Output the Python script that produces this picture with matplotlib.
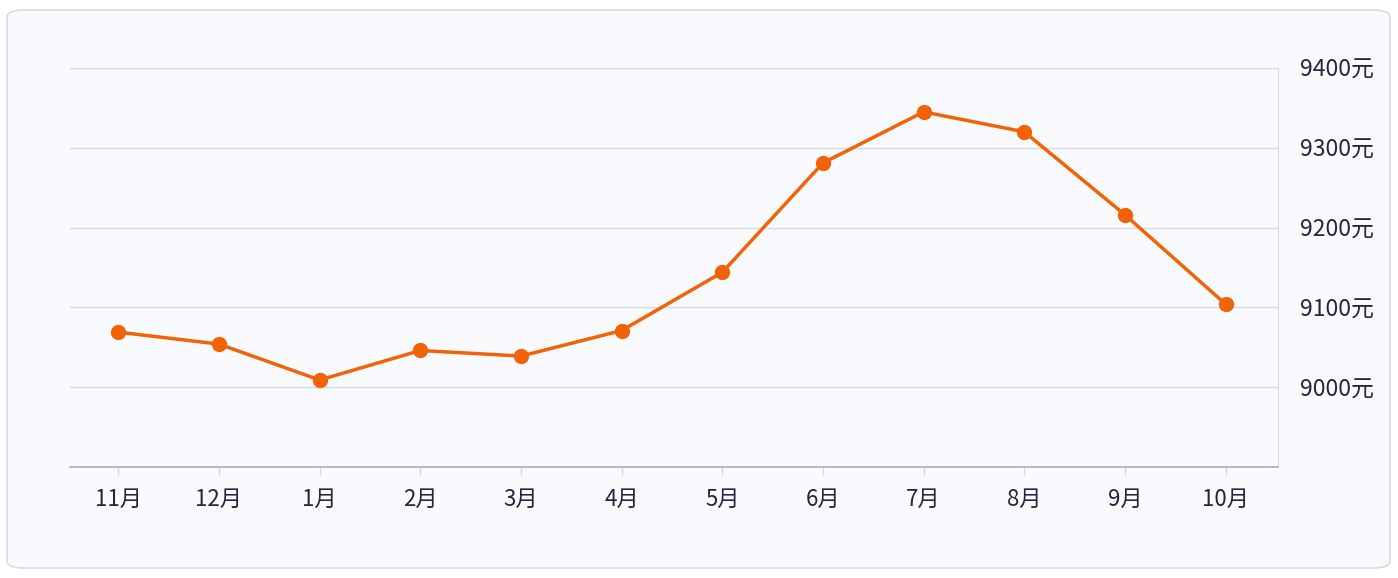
import matplotlib.pyplot as plt
from matplotlib.patches import FancyBboxPatch

plt.rcParams['font.family'] = ['Noto Sans CJK SC', 'DejaVu Sans']

months = ['11月', '12月', '1月', '2月', '3月', '4月', '5月', '6月', '7月', '8月', '9月', '10月']
prices = [9069, 9054, 9009, 9046, 9039, 9071, 9144, 9281, 9345, 9320, 9216, 9104]
y_ticks = [9000, 9100, 9200, 9300, 9400]
y_labels = ['9000元', '9100元', '9200元', '9300元', '9400元']

line_color = '#f26207'
text_color = '#2b2140'

fig = plt.figure(figsize=(13.98, 5.78), dpi=100)
fig.patch.set_facecolor('white')

# card background with rounded corners
card = FancyBboxPatch((7 / 1398, 10 / 578), 1383 / 1398, 558 / 578,
                      boxstyle='round,pad=0,rounding_size=0.012',
                      transform=fig.transFigure, facecolor='#f9fafd',
                      edgecolor='#d9dce2', linewidth=1.2, zorder=-5)
fig.patches.append(card)

ax = fig.add_axes([70 / 1398, 1 - 467 / 578, 1208 / 1398, 399 / 578])
ax.set_zorder(2)
ax.set_facecolor('none')

x = list(range(len(months)))
ax.plot(x, prices, color=line_color, linewidth=2.5, marker='o',
        markersize=10, markerfacecolor=line_color, markeredgecolor=line_color,
        zorder=3, clip_on=False)

ax.set_xlim(-0.48, len(months) - 0.48)
ax.set_ylim(8900, 9400)

ax.set_xticks(x)
ax.set_xticklabels(months, fontsize=16, color=text_color)
ax.tick_params(axis='x', length=6, width=1, color='#d5d8de', pad=9)

ax.yaxis.tick_right()
ax.set_yticks(y_ticks)
ax.set_yticklabels(y_labels, fontsize=16.5, color=text_color)
ax.tick_params(axis='y', length=0, pad=16)

for v in y_ticks:
    ax.axhline(v, color='#d6d9e1', linewidth=1, zorder=1)

ax.spines['top'].set_visible(False)
ax.spines['left'].set_visible(False)
ax.spines['right'].set_color('#d8dbe2')
ax.spines['bottom'].set_color('#a9aebb')
ax.spines['bottom'].set_linewidth(1.2)

fig.savefig('out.png', dpi=100)
